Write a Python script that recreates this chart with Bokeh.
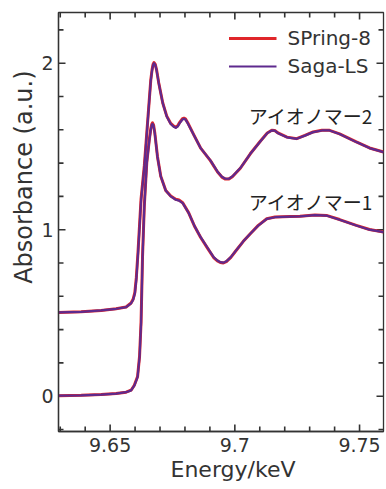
from bokeh.plotting import figure
from bokeh.models import (ColumnDataSource, FixedTicker, LinearAxis, Legend, LegendItem, Range1d, Title)
from bokeh.core.properties import value
from bokeh.embed import file_html
from bokeh.resources import INLINE

# ---------------- data ----------------
energy_1 = [9.6293, 9.6384, 9.6464, 9.6524, 9.6564, 9.6584, 9.6597, 9.6610, 9.6618, 9.6624,
            9.6630, 9.6637, 9.6647, 9.6657, 9.6663, 9.6667, 9.6670, 9.6674, 9.6679, 9.6690,
            9.6703, 9.6723, 9.6743, 9.6763, 9.6776, 9.6791, 9.6815, 9.6839, 9.6863, 9.6891,
            9.6915, 9.6930, 9.6942, 9.6954, 9.6966, 9.6984, 9.7002, 9.7034, 9.7062, 9.7094,
            9.7128, 9.7161, 9.7221, 9.7261, 9.7321, 9.7367, 9.7420, 9.7487, 9.7540, 9.7596]
saga_ion1 = [0.003, 0.005, 0.010, 0.016, 0.024, 0.035, 0.064, 0.114, 0.234, 0.435,
             0.835, 1.135, 1.400, 1.535, 1.600, 1.628, 1.636, 1.625, 1.580, 1.435,
             1.320, 1.235, 1.200, 1.180, 1.175, 1.160, 1.100, 1.020, 0.955, 0.890,
             0.835, 0.815, 0.805, 0.802, 0.810, 0.835, 0.870, 0.930, 0.975, 1.025,
             1.065, 1.075, 1.078, 1.080, 1.087, 1.085, 1.060, 1.025, 1.000, 0.985]
spring_ion1 = [0.003, 0.005, 0.010, 0.016, 0.024, 0.036, 0.066, 0.118, 0.240, 0.445,
               0.845, 1.142, 1.405, 1.540, 1.606, 1.634, 1.642, 1.630, 1.583, 1.437,
               1.321, 1.236, 1.202, 1.183, 1.178, 1.162, 1.101, 1.019, 0.953, 0.888,
               0.833, 0.813, 0.803, 0.800, 0.808, 0.834, 0.869, 0.930, 0.976, 1.026,
               1.066, 1.076, 1.079, 1.081, 1.088, 1.086, 1.061, 1.026, 1.001, 0.986]

energy_2 = [9.6293, 9.6384, 9.6464, 9.6524, 9.6564, 9.6584, 9.6592, 9.6599, 9.6605, 9.6612,
            9.6624, 9.6637, 9.6650, 9.6663, 9.6668, 9.6672, 9.6676, 9.6681, 9.6686, 9.6695,
            9.6711, 9.6727, 9.6743, 9.6755, 9.6763, 9.6771, 9.6779, 9.6790, 9.6796, 9.6803,
            9.6811, 9.6835, 9.6863, 9.6902, 9.6930, 9.6948, 9.6962, 9.6976, 9.6990, 9.7022,
            9.7062, 9.7102, 9.7130, 9.7148, 9.7160, 9.7173, 9.7209, 9.7248, 9.7281, 9.7314,
            9.7349, 9.7380, 9.7420, 9.7487, 9.7540, 9.7596]
saga_ion2 = [0.503, 0.507, 0.515, 0.525, 0.535, 0.558, 0.578, 0.615, 0.700, 0.860,
             1.175, 1.375, 1.636, 1.896, 1.955, 1.988, 2.000, 1.990, 1.960, 1.880,
             1.760, 1.680, 1.635, 1.618, 1.612, 1.620, 1.640, 1.662, 1.666, 1.660,
             1.640, 1.570, 1.490, 1.416, 1.350, 1.318, 1.306, 1.306, 1.320, 1.370,
             1.456, 1.530, 1.580, 1.596, 1.595, 1.580, 1.555, 1.546, 1.565, 1.586,
             1.596, 1.596, 1.575, 1.526, 1.490, 1.466]
spring_ion2 = [0.503, 0.507, 0.515, 0.525, 0.536, 0.560, 0.582, 0.622, 0.712, 0.872,
               1.185, 1.383, 1.642, 1.900, 1.960, 1.992, 2.004, 1.993, 1.962, 1.881,
               1.761, 1.682, 1.638, 1.622, 1.616, 1.624, 1.645, 1.667, 1.670, 1.664,
               1.643, 1.571, 1.490, 1.415, 1.348, 1.316, 1.304, 1.304, 1.318, 1.369,
               1.456, 1.531, 1.581, 1.597, 1.596, 1.581, 1.556, 1.547, 1.566, 1.587,
               1.597, 1.597, 1.576, 1.527, 1.491, 1.467]

x_major = [9.65, 9.7, 9.75]
x_major_labels = ["9.65", "9.7", "9.75"]
x_minor = [9.63, 9.64, 9.66, 9.67, 9.68, 9.69, 9.71, 9.72, 9.73, 9.74]
y_major = [0, 1, 2]
y_minor = [-0.2, 0.2, 0.4, 0.6, 0.8, 1.2, 1.4, 1.6, 1.8, 2.2]

series_names = ["SPring-8", "Saga-LS"]
sample_labels = ["アイオノマー2", "アイオノマー1"]
sample_label_x = [9.7555, 9.7555]
sample_label_y = [1.686, 1.172]
x_title = "Energy/keV"
y_title = "Absorbance (a.u.)"

X_RANGE = (9.6293, 9.7596)
Y_RANGE = (-0.212, 2.3045)

# ---------------- figure ----------------
W, H = 386, 489
BL, BR, BT, BB = 58, 3, 12, 58
RED = "#e0262a"
PURPLE = "#5e2a8e"
AX = "#333333"
TXT = "#333333"
FONT = "DejaVu Sans"

p = figure(width=W, height=H, output_backend="svg", toolbar_location=None,
           x_range=Range1d(*X_RANGE), y_range=Range1d(*Y_RANGE),
           min_border_left=BL, min_border_right=BR, min_border_top=BT, min_border_bottom=BB,
           x_axis_location=None, y_axis_location=None)
p.grid.visible = False
p.outline_line_color = AX
p.outline_line_width = 1.3
p.background_fill_color = "white"
p.border_fill_color = "white"

def style_axis(ax, ticks):
    ax.ticker = FixedTicker(ticks=ticks, minor_ticks=[])
    ax.axis_line_color = AX
    ax.axis_line_width = 1.3
    ax.major_tick_line_color = None
    ax.minor_tick_line_color = None
    ax.major_tick_in = 0
    ax.major_tick_out = 0
    ax.minor_tick_in = 0
    ax.minor_tick_out = 0

xb = LinearAxis()
style_axis(xb, x_major)
xb.major_label_overrides = {t: l for t, l in zip(x_major, x_major_labels)}
xb.major_label_text_font = FONT
xb.major_label_text_font_size = "19px"
xb.major_label_text_color = TXT
xb.major_label_standoff = 6
p.add_layout(xb, "below")

yl = LinearAxis()
style_axis(yl, y_major)
yl.major_label_text_font = FONT
yl.major_label_text_font_size = "19px"
yl.major_label_text_color = TXT
yl.major_label_standoff = 5
yl.major_label_orientation = "horizontal"
p.add_layout(yl, "left")

# inward tick marks on all four frame edges, lengths converted from pixels via the ranges
dx_px = (X_RANGE[1] - X_RANGE[0]) / (W - BL - BR)
dy_px = (Y_RANGE[1] - Y_RANGE[0]) / (H - BT - BB)

def x_edge_ticks(vals, length_px):
    n = len(vals)
    p.segment(x0=vals, y0=[Y_RANGE[0]] * n, x1=vals, y1=[Y_RANGE[0] + length_px * dy_px] * n,
              line_color=AX, line_width=1.6)
    p.segment(x0=vals, y0=[Y_RANGE[1]] * n, x1=vals, y1=[Y_RANGE[1] - length_px * dy_px] * n,
              line_color=AX, line_width=1.6)

def y_edge_ticks(vals, length_px):
    n = len(vals)
    p.segment(x0=[X_RANGE[0]] * n, y0=vals, x1=[X_RANGE[0] + length_px * dx_px] * n, y1=vals,
              line_color=AX, line_width=1.6)
    p.segment(x0=[X_RANGE[1]] * n, y0=vals, x1=[X_RANGE[1] - length_px * dx_px] * n, y1=vals,
              line_color=AX, line_width=1.6)

x_edge_ticks(x_major, 7)
x_edge_ticks(x_minor, 5)
y_edge_ticks(y_major, 7)
y_edge_ticks(y_minor, 5)

# axis titles as side titles, positioned like in the original
t_x = Title(text=x_title, align="left", offset=112, standoff=0,
            text_font=FONT, text_font_size="22px", text_font_style="normal", text_color=TXT)
p.add_layout(t_x, "below")
t_y = Title(text=y_title, align="right", offset=58, standoff=2,
            text_font=FONT, text_font_size="24px", text_font_style="normal", text_color=TXT)
p.add_layout(t_y, "left")

# ---------------- curves ----------------
s1 = ColumnDataSource(dict(x=energy_1, spring=spring_ion1, saga=saga_ion1))
s2 = ColumnDataSource(dict(x=energy_2, spring=spring_ion2, saga=saga_ion2))

r_sp1 = p.line("x", "spring", source=s1, line_color=RED, line_width=3.0, line_join="round")
r_sp2 = p.line("x", "spring", source=s2, line_color=RED, line_width=3.0, line_join="round")
r_sa1 = p.line("x", "saga", source=s1, line_color=PURPLE, line_width=2.2, line_join="round")
r_sa2 = p.line("x", "saga", source=s2, line_color=PURPLE, line_width=2.2, line_join="round")

lab = ColumnDataSource(dict(x=sample_label_x, y=sample_label_y, t=sample_labels))
p.text("x", "y", text="t", source=lab, text_align="right", text_baseline="middle",
       text_font=value("Noto Sans CJK JP"), text_font_size="19px", text_color="#222222")

legend = Legend(items=[LegendItem(label=series_names[0], renderers=[r_sp1]),
                       LegendItem(label=series_names[1], renderers=[r_sa1])],
                location="top_right")
legend.border_line_color = None
legend.background_fill_alpha = 0
legend.label_text_font = FONT
legend.label_text_font_size = "20px"
legend.label_text_color = TXT
legend.glyph_width = 48
legend.glyph_height = 28
legend.label_height = 28
legend.label_standoff = 11
legend.spacing = 0
legend.padding = 12
legend.margin = 12
p.add_layout(legend)

open("out.html", "w").write(file_html(p, INLINE))
